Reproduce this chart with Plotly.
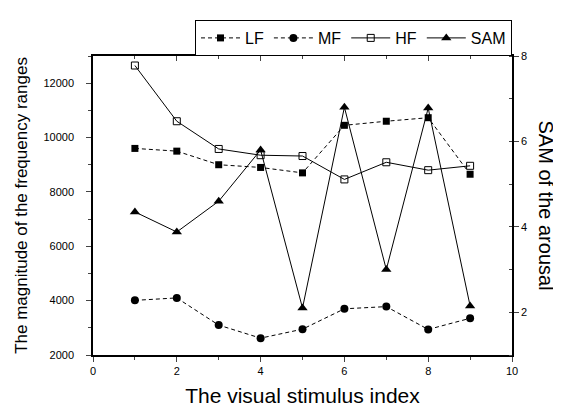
import plotly.graph_objects as go

x_index = [1, 2, 3, 4, 5, 6, 7, 8, 9]
lf = [9600, 9500, 9000, 8900, 8700, 10450, 10600, 10730, 8650]
mf = [4010, 4100, 3100, 2620, 2950, 3700, 3780, 2940, 3350]
hf = [12650, 10600, 9580, 9350, 9320, 8460, 9090, 8800, 8960]
sam = [4.35, 3.88, 4.6, 5.8, 2.1, 6.8, 3.0, 6.78, 2.15]

FONT = "Liberation Sans, Arial, sans-serif"
fig = go.Figure()

fig.add_trace(go.Scatter(x=x_index, y=lf, name="LF", mode="lines+markers",
                         line=dict(color="black", width=1, dash="4px,3px"),
                         marker=dict(symbol="square", size=7, color="black")))
fig.add_trace(go.Scatter(x=x_index, y=mf, name="MF", mode="lines+markers",
                         line=dict(color="black", width=1, dash="4px,3px"),
                         marker=dict(symbol="circle", size=8, color="black")))
fig.add_trace(go.Scatter(x=x_index, y=hf, name="HF", mode="lines+markers",
                         line=dict(color="black", width=1),
                         marker=dict(symbol="square-open", size=7, color="black",
                                     line=dict(width=1))))
fig.add_trace(go.Scatter(x=x_index, y=sam, name="SAM", mode="lines+markers", yaxis="y2",
                         line=dict(color="black", width=1),
                         marker=dict(symbol="triangle-up", size=9, color="black")))
# invisible trace to activate top axis
fig.add_trace(go.Scatter(x=[0], y=[2000], xaxis="x2", mode="markers",
                         marker=dict(opacity=0), showlegend=False, hoverinfo="skip"))

fig.update_layout(
    width=561, height=408,
    margin=dict(l=84, r=57, t=43, b=55),
    paper_bgcolor="white", plot_bgcolor="white",
    font=dict(family=FONT, color="black", size=11),
    showlegend=True,
    legend=dict(orientation="h", x=1, xanchor="right", y=1, yanchor="bottom",
                bordercolor="black", borderwidth=1, bgcolor="white",
                font=dict(size=16, family=FONT), traceorder="normal",
                itemwidth=39),
    xaxis=dict(range=[0, 10], dtick=2, tick0=0, showline=True, linecolor="black",
               linewidth=1.5, ticks="outside", ticklen=5, tickwidth=1.2,
               showgrid=False, zeroline=False,
               minor=dict(dtick=1, ticks="outside", ticklen=3, tickwidth=1),
               title=dict(text="The visual stimulus index", font=dict(size=21), standoff=12),
               tickfont=dict(size=11)),
    xaxis2=dict(range=[0, 10], overlaying="x", side="top", dtick=2, tick0=0,
                showline=True, linecolor="black", linewidth=1.5, ticks="inside",
                ticklen=5, tickwidth=1.2, showticklabels=False, showgrid=False,
                zeroline=False,
                minor=dict(dtick=1, ticks="inside", ticklen=3, tickwidth=1)),
    yaxis=dict(range=[2000, 13000], dtick=2000, tick0=2000, showline=True,
               tickformat="d",
               linecolor="black", linewidth=1.5, ticks="outside", ticklen=5,
               tickwidth=1.2, showgrid=False, zeroline=False,
               minor=dict(dtick=1000, ticks="outside", ticklen=3, tickwidth=1),
               ticklabelstandoff=10,
               title=dict(text="The magnitude of the frequency ranges",
                          font=dict(size=17), standoff=12),
               tickfont=dict(size=11)),
    yaxis2=dict(range=[1, 8], dtick=2, tick0=0, overlaying="y", side="right",
                showline=True, linecolor="black", linewidth=1.5, ticks="outside",
                ticklen=5, tickwidth=1.2, showgrid=False, zeroline=False,
                minor=dict(dtick=1, ticks="inside", ticklen=3, tickwidth=1),
                tickfont=dict(size=11)),
    annotations=[dict(text="SAM of the arousal", textangle=90, xref="paper", yref="paper",
                      x=1, y=0.5, xanchor="center", yanchor="middle", xshift=34,
                      showarrow=False, font=dict(size=20, family=FONT))],
)

fig.write_html("out.html")
